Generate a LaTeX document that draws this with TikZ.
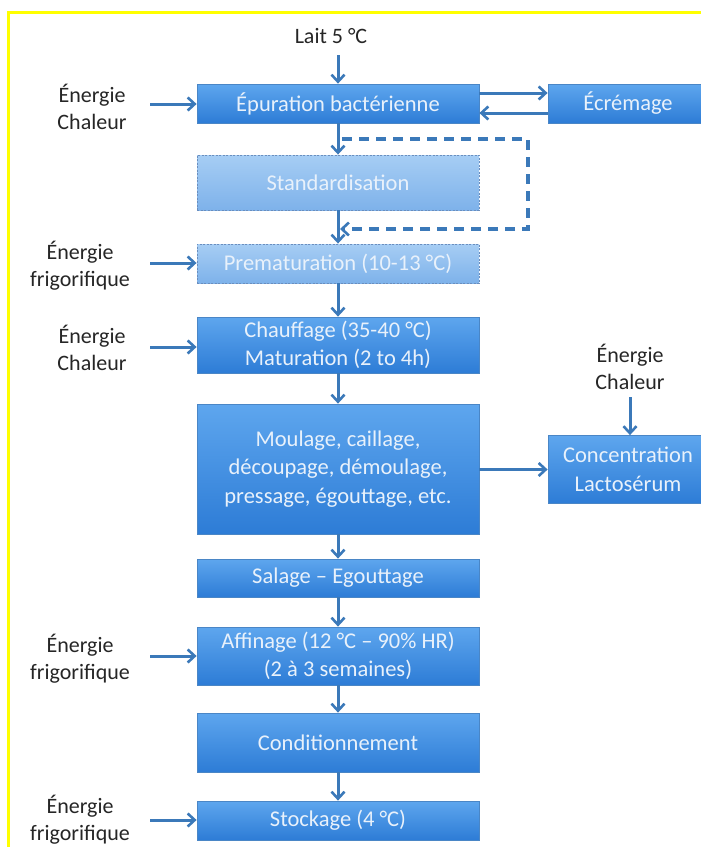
\documentclass[tikz,border=0pt]{standalone}
\usepackage{fontspec}
\setmainfont{Carlito}
\usetikzlibrary{arrows.meta}
\definecolor{arrc}{HTML}{3B79B9}
\definecolor{boxtop}{HTML}{5EA6EE}
\definecolor{boxbot}{HTML}{2D7CD6}
\definecolor{boxline}{HTML}{4A86C6}
\definecolor{dline}{HTML}{6A8EBE}
\definecolor{ltop}{HTML}{A6CDF4}
\definecolor{lbot}{HTML}{7EB2EA}
\definecolor{btext}{HTML}{E8F1FB}
\definecolor{ytl}{HTML}{FFFF00}
\tikzset{
  procbox/.style={rectangle, draw=boxline, line width=0.8pt, top color=boxtop, bottom color=boxbot,
    text=btext, font=\fontsize{22.5}{28.5}\selectfont, align=center, inner sep=0pt},
  optbox/.style={rectangle, draw=dline, dash pattern=on 2pt off 1.5pt, line width=0.9pt, top color=ltop, bottom color=lbot,
    text=btext, font=\fontsize{22.5}{28.5}\selectfont, align=center, inner sep=0pt},
  lbl/.style={text=black!85, font=\fontsize{22}{27}\selectfont, align=center, inner sep=0pt},
  arr/.style={draw=arrc, line width=3pt, -{Straight Barb[length=7pt,width=13pt,line width=2.6pt]}},
  dasharr/.style={arr, line width=3.4pt, dash pattern=on 10pt off 7pt}
}
\begin{document}
\begin{tikzpicture}[x=1pt,y=-1pt]
\useasboundingbox (0,0) rectangle (701,847);
\fill[white] (0,0) rectangle (701,847);
\draw[ytl, line width=3pt] (8,847) -- (8,12) -- (720,12);
% boxes
\node[procbox, minimum width=282pt, minimum height=39pt] (ep) at (338,103.5) {Épuration bactérienne};
\node[procbox, minimum width=160pt, minimum height=39pt] (ecr) at (628,103.5) {Écrémage};
\node[optbox, minimum width=282pt, minimum height=55pt] (std) at (338,182.5) {Standardisation};
\node[optbox, minimum width=282pt, minimum height=39pt] (pre) at (338,263.5) {Prematuration (10-13 °C)};
\node[procbox, minimum width=282pt, minimum height=56pt] (chf) at (338,345) {Chauffage (35-40 °C)\\Maturation (2 to 4h)};
\node[procbox, minimum width=282pt, minimum height=130pt] (moul) at (338,469) {Moulage, caillage,\\découpage, démoulage,\\pressage, égouttage, etc.};
\node[procbox, minimum width=160pt, minimum height=68pt] (conc) at (628,469.5) {Concentration\\Lactosérum};
\node[procbox, minimum width=282pt, minimum height=38pt] (sal) at (338,578) {Salage – Egouttage};
\node[procbox, minimum width=282pt, minimum height=58pt] (aff) at (338,656) {Affinage (12 °C – 90\% HR)\\(2 à 3 semaines)};
\node[procbox, minimum width=282pt, minimum height=59pt] (cond) at (338,742.5) {Conditionnement};
\node[procbox, minimum width=282pt, minimum height=39pt] (sto) at (338,820.5) {Stockage (4 °C)};
% labels
\node[lbl] (lait) at (331,36) {Lait 5 °C};
\node[lbl] (e1) at (92,107) {Énergie\\Chaleur};
\node[lbl] (e2) at (80,266) {Énergie\\frigorifique};
\node[lbl] (e3) at (92,348) {Énergie\\Chaleur};
\node[lbl] (e4) at (630,367) {Énergie\\Chaleur};
\node[lbl] (e5) at (80,659) {Énergie\\frigorifique};
\node[lbl] (e6) at (80,820) {Énergie\\frigorifique};
% connector free ends
\coordinate (l0) at (338,55);
\coordinate (s1) at (150,104);
\coordinate (s2) at (150,263);
\coordinate (s3) at (150,347);
\coordinate (s4) at (630,397);
\coordinate (s5) at (150,656);
\coordinate (s6) at (150,820);
\coordinate (d0) at (342,139);
\coordinate (d1) at (528,139);
\coordinate (d2) at (528,229);
\coordinate (d3) at (340,229);
% arrows
\draw[arr] (l0) -- (ep.north);
\draw[arr] (s1) -- (s1 -| ep.west);
\draw[arr] (s2) -- (s2 -| pre.west);
\draw[arr] (s3) -- (s3 -| chf.west);
\draw[arr] (s4) -- (conc.north -| s4);
\draw[arr] (s5) -- (s5 -| aff.west);
\draw[arr] (s6) -- (s6 -| sto.west);
\draw[arr] ([yshift=10.5pt]ep.east) -- ([yshift=10.5pt]ep.east -| ecr.west);
\draw[arr] ([yshift=-9.5pt]ecr.west) -- ([yshift=-9.5pt]ecr.west -| ep.east);
\draw[arr] (ep.south) -- (std.north);
\draw[arr] (std.south) -- (pre.north);
\draw[arr] (pre.south) -- (chf.north);
\draw[arr] (chf.south) -- (moul.north);
\draw[arr] (moul.east |- conc.west) -- (conc.west);
\draw[arr] (moul.south) -- (sal.north);
\draw[arr] (sal.south) -- (aff.north);
\draw[arr] (aff.south) -- (cond.north);
\draw[arr] (cond.south) -- (sto.north);
\draw[dasharr] (d0) -- (d1) -- (d2) -- (d3);
\end{tikzpicture}
\end{document}
